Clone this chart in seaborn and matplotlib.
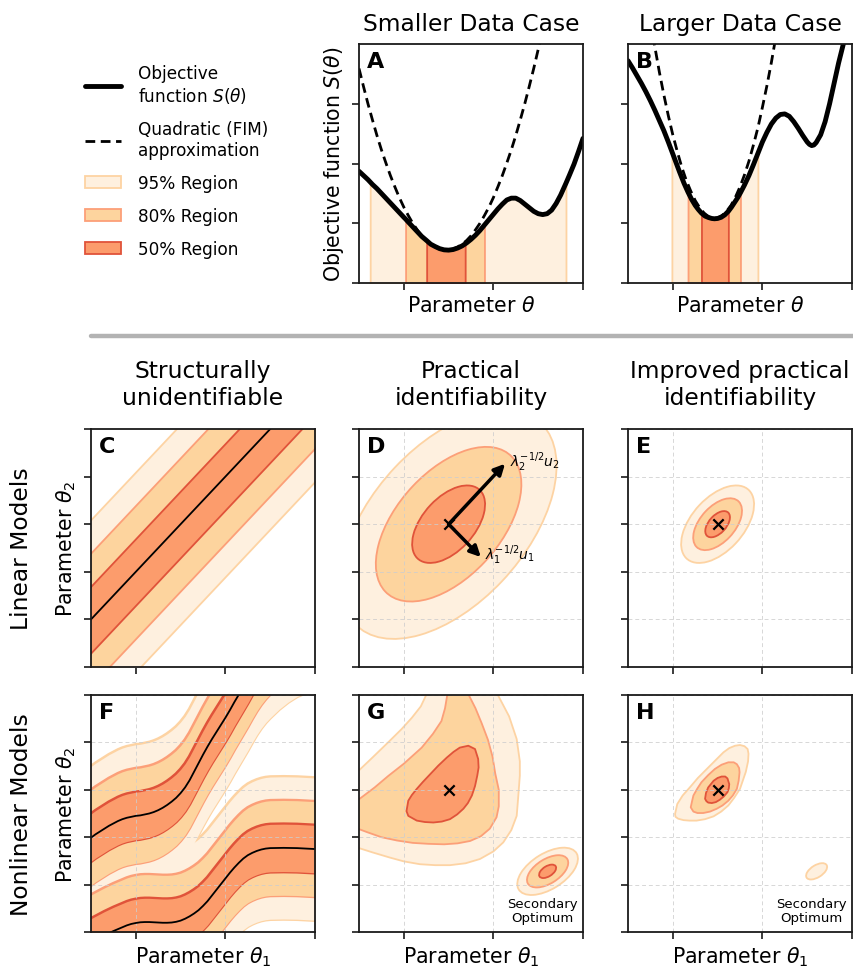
"""
Identifiability sketch: objective function slices (top row) and
confidence regions for linear / nonlinear models (bottom grid).
"""
import matplotlib
matplotlib.use("Agg")  # headless
import matplotlib.pyplot as plt
from matplotlib.lines import Line2D
from matplotlib.patches import Ellipse, Patch
import numpy as np
import seaborn as sns

sns.set_style("ticks", {"axes.edgecolor": ".1"})
plt.rcParams.update({
    "font.family": ["DejaVu Sans"],
    "text.color": "black",
    "axes.labelcolor": "black",
    "xtick.color": ".1",
    "ytick.color": ".1",
    "xtick.major.size": 5,
    "ytick.major.size": 5,
    "xtick.major.width": 1.2,
    "ytick.major.width": 1.2,
    "axes.linewidth": 1.3,
    "lines.solid_joinstyle": "round",
    "lines.solid_capstyle": "round",
})

FIG_W, FIG_H = 854, 970
TITLE_FS = 16.8
LABEL_FS = 14.8
LETTER_FS = 16

LEVELS = ["95", "80", "50"]
REGION_FILL = {"95": "#fef0df", "80": "#fdd49e", "50": "#fc9c6c"}
REGION_EDGE = {"95": "#fdd3a3", "80": "#fc9f78", "50": "#e0533a"}

# ---- A: smaller data case ----
small_theta = [0.0, 0.1, 0.2, 0.25, 0.3, 0.4, 0.5, 0.6, 0.7, 0.8, 0.9, 1.0, 1.04, 1.1,
               1.2, 1.3, 1.4, 1.51, 1.6, 1.7, 1.8, 1.9, 2.0, 2.1, 2.2, 2.3, 2.37, 2.4,
               2.5, 2.6, 2.7, 2.8, 2.9, 3.0, 3.1, 3.2, 3.3, 3.4, 3.5, 3.6, 3.7, 3.8,
               3.9, 4.0, 4.1, 4.2, 4.3, 4.4, 4.5, 4.62, 4.7, 4.8, 4.9, 5.0]
small_obj = [1.87, 1.80, 1.73, 1.69, 1.65, 1.58, 1.50, 1.42, 1.34, 1.26, 1.18, 1.10, 1.07,
             1.02, 0.94, 0.86, 0.78, 0.71, 0.65, 0.61, 0.575, 0.555, 0.55, 0.56, 0.585,
             0.62, 0.655, 0.67, 0.73, 0.80, 0.88, 0.97, 1.06, 1.15, 1.24, 1.32, 1.39,
             1.42, 1.42, 1.38, 1.32, 1.26, 1.20, 1.16, 1.145, 1.16, 1.22, 1.33, 1.47,
             1.67, 1.81, 1.99, 2.20, 2.42]
small_quad_theta = [0.0, 0.1, 0.2, 0.3, 0.4, 0.5, 0.6, 0.7, 0.8, 0.9, 1.0, 1.1, 1.2, 1.3,
                    1.4, 1.5, 1.6, 1.7, 1.8, 1.9, 2.0, 2.1, 2.2, 2.3, 2.4, 2.5, 2.6, 2.7,
                    2.8, 2.9, 3.0, 3.1, 3.2, 3.3, 3.4, 3.5, 3.6, 3.7, 3.8, 3.9, 4.0, 4.1]
small_quad = [3.59, 3.29, 3.00, 2.73, 2.47, 2.23, 2.01, 1.80, 1.61, 1.43, 1.27, 1.13, 1.00,
              0.89, 0.79, 0.71, 0.65, 0.60, 0.57, 0.55, 0.55, 0.57, 0.60, 0.65, 0.71,
              0.79, 0.89, 1.00, 1.13, 1.27, 1.43, 1.61, 1.80, 2.01, 2.23, 2.47, 2.73,
              3.00, 3.29, 3.59, 3.91, 4.25]
small_bounds = [(0.25, 4.62), (1.04, 2.80), (1.51, 2.37)]

# ---- B: larger data case ----
large_theta = [0.0, 0.1, 0.2, 0.3, 0.4, 0.5, 0.6, 0.7, 0.8, 0.9, 0.98, 1.05, 1.15, 1.25,
               1.34, 1.42, 1.5, 1.57, 1.64, 1.72, 1.8, 1.87, 1.93, 2.0, 2.08, 2.16, 2.24,
               2.31, 2.38, 2.45, 2.51, 2.6, 2.7, 2.8, 2.9, 3.0, 3.1, 3.2, 3.3, 3.4, 3.5,
               3.6, 3.7, 3.8, 3.9, 4.0, 4.05, 4.1, 4.15, 4.2, 4.3, 4.4, 4.5, 4.6, 4.7,
               4.8, 4.9]
large_obj = [3.72, 3.60, 3.47, 3.34, 3.20, 3.05, 2.89, 2.72, 2.55, 2.36, 2.20, 2.06, 1.86,
             1.67, 1.52, 1.40, 1.30, 1.23, 1.17, 1.12, 1.095, 1.08, 1.075, 1.08, 1.10,
             1.14, 1.20, 1.27, 1.35, 1.43, 1.51, 1.64, 1.80, 1.98, 2.17, 2.36, 2.52,
             2.66, 2.76, 2.82, 2.83, 2.79, 2.70, 2.59, 2.47, 2.36, 2.32, 2.30, 2.31,
             2.35, 2.48, 2.70, 3.00, 3.34, 3.68, 3.98, 4.30]
large_quad_theta = [0.5, 0.6, 0.7, 0.8, 0.9, 1.0, 1.1, 1.2, 1.3, 1.4, 1.5, 1.6, 1.7, 1.8,
                    1.9, 2.0, 2.1, 2.2, 2.3, 2.4, 2.5, 2.6, 2.7, 2.8, 2.9, 3.0, 3.1, 3.2,
                    3.3, 3.4]
large_quad = [4.39, 3.95, 3.53, 3.15, 2.80, 2.48, 2.20, 1.94, 1.72, 1.54, 1.38, 1.26, 1.17,
              1.11, 1.08, 1.09, 1.13, 1.20, 1.30, 1.44, 1.61, 1.81, 2.04, 2.31, 2.60,
              2.94, 3.30, 3.69, 4.12, 4.58]
large_bounds = [(0.98, 2.90), (1.34, 2.51), (1.64, 2.24)]

# ---- C: structurally unidentifiable ridge ----
ridge_x = [-1.0, 6.0]
ridge_y = [0.0, 7.0]
ridge_halfwidth = [2.1, 1.4, 0.7]

# ---- D / E: linear model ellipses ----
optimum = (2.0, 3.0)
d_axes = [(2.96, 1.69), (2.0, 1.13), (1.0, 0.57)]
e_axes = [(1.0, 0.57), (0.67, 0.38), (0.34, 0.19)]
ellipse_angle = 45
eig_tip_x = [2.72, 3.26]
eig_tip_y = [2.31, 4.27]
eig_labels = [r"$\lambda_1^{-1/2}u_1$", r"$\lambda_2^{-1/2}u_2$"]

# ---- F: nonlinear ridges ----
f_upper_x = [-0.3, -0.2, -0.1, 0.0, 0.1, 0.2, 0.3, 0.4, 0.5, 0.6, 0.7, 0.8, 0.9, 1.0,
             1.1, 1.2, 1.3, 1.4, 1.5, 1.6, 1.7, 1.8, 1.9, 2.0, 2.1, 2.2, 2.3, 2.4, 2.5,
             2.6, 2.7, 2.8, 2.9, 3.0, 3.1, 3.2, 3.3, 3.4, 3.5, 3.6, 3.7, 3.8, 3.9, 4.0,
             4.2, 4.4, 4.6, 4.8, 5.0, 5.3]
f_upper_y = [1.83, 1.88, 1.94, 1.99, 2.06, 2.12, 2.18, 2.24, 2.29, 2.34, 2.38, 2.41, 2.43,
             2.45, 2.46, 2.48, 2.50, 2.53, 2.57, 2.62, 2.68, 2.75, 2.83, 2.93, 3.05, 3.20,
             3.38, 3.56, 3.74, 3.91, 4.07, 4.22, 4.37, 4.52, 4.68, 4.85, 5.01, 5.17, 5.33,
             5.50, 5.66, 5.80, 5.92, 6.02, 6.20, 6.35, 6.47, 6.55, 6.60, 6.65]
f_lower_x = [-0.3, -0.2, -0.1, 0.0, 0.1, 0.2, 0.3, 0.4, 0.5, 0.6, 0.7, 0.8, 0.9, 1.0,
             1.1, 1.2, 1.3, 1.4, 1.5, 1.6, 1.7, 1.8, 1.9, 2.0, 2.1, 2.2, 2.3, 2.4, 2.5,
             2.6, 2.7, 2.8, 2.9, 3.0, 3.1, 3.2, 3.3, 3.4, 3.5, 3.6, 3.7, 3.8, 3.9, 4.0,
             4.3, 4.6, 5.0, 5.3]
f_lower_y = [-0.40, -0.34, -0.28, -0.22, -0.17, -0.12, -0.07, -0.025, 0.02, 0.06, 0.10,
             0.14, 0.17, 0.19, 0.205, 0.21, 0.21, 0.205, 0.20, 0.195, 0.195, 0.20, 0.215,
             0.24, 0.28, 0.33, 0.39, 0.46, 0.55, 0.65, 0.77, 0.89, 1.01, 1.13, 1.25,
             1.36, 1.46, 1.55, 1.62, 1.67, 1.71, 1.74, 1.76, 1.77, 1.775, 1.77, 1.75,
             1.74]
f_halfwidth = [1.5, 1.0, 0.5]

# ---- G: banana-shaped regions ----
g95_x = [-0.4, 0.0, 0.3, 0.65, 0.95, 1.18, 1.38, 1.5, 1.6, 2.3, 2.95, 3.1, 3.35, 3.52,
         3.59, 3.59, 3.55, 3.52, 3.4, 3.22, 3.0, 2.7, 2.38, 2.03, 1.7, 1.36, 1.0, 0.69,
         0.3, 0.0, -0.4]
g95_y = [3.05, 3.41, 3.68, 4.0, 4.28, 4.52, 4.76, 5.0, 5.25, 5.5, 5.25, 5.0, 4.55, 4.07,
         3.6, 3.3, 2.8, 2.45, 2.15, 1.89, 1.7, 1.54, 1.45, 1.41, 1.41, 1.43, 1.49, 1.57,
         1.68, 1.77, 1.9]
g80_x = [-0.4, 0.0, 0.35, 0.65, 1.0, 1.4, 1.65, 1.84, 1.92, 1.97, 2.02, 2.35, 2.45, 2.6,
         2.74, 2.88, 2.98, 3.04, 3.12, 3.12, 3.07, 2.92, 2.72, 2.48, 2.2, 1.9, 1.55, 1.2,
         0.85, 0.5, 0.2, 0.0, -0.4]
g80_y = [2.5, 2.8, 3.05, 3.29, 3.55, 3.89, 4.18, 4.45, 4.72, 5.0, 5.3, 5.3, 5.0, 4.72,
         4.4, 4.05, 3.7, 3.35, 3.0, 2.65, 2.42, 2.18, 2.02, 1.92, 1.87, 1.85, 1.86, 1.88,
         1.93, 2.0, 2.1, 2.17, 2.3]
g50_x = [1.06, 1.10, 1.18, 1.29, 1.43, 1.59, 1.77, 1.96, 2.11, 2.25, 2.44, 2.59, 2.66,
         2.67, 2.64, 2.59, 2.52, 2.43, 2.33, 2.19, 2.03, 1.85, 1.66, 1.47, 1.29, 1.10]
g50_y = [2.55, 2.77, 2.89, 3.02, 3.17, 3.33, 3.51, 3.68, 3.80, 3.89, 3.93, 3.86, 3.65,
         3.47, 3.30, 3.08, 2.88, 2.72, 2.60, 2.48, 2.38, 2.33, 2.31, 2.32, 2.35, 2.45]

# ---- H: tighter nonlinear regions ----
h95_x = [1.05, 1.10, 1.22, 1.38, 1.56, 1.76, 1.95, 2.13, 2.26, 2.39, 2.50, 2.60, 2.67,
         2.69, 2.68, 2.63, 2.50, 2.37, 2.24, 2.08, 1.91, 1.72, 1.53, 1.37, 1.24, 1.12,
         1.06]
h95_y = [2.49, 2.70, 2.88, 3.05, 3.25, 3.44, 3.62, 3.79, 3.88, 3.93, 3.945, 3.92, 3.86,
         3.76, 3.60, 3.38, 3.02, 2.83, 2.67, 2.54, 2.44, 2.38, 2.35, 2.35, 2.36, 2.39,
         2.43]
h80_x = [1.40, 1.43, 1.46, 1.55, 1.64, 1.79, 1.94, 2.09, 2.24, 2.36, 2.43, 2.48, 2.49,
         2.47, 2.43, 2.34, 2.24, 2.11, 1.98, 1.83, 1.68, 1.55, 1.46]
h80_y = [2.63, 2.76, 2.88, 3.03, 3.16, 3.31, 3.44, 3.53, 3.58, 3.58, 3.54, 3.46, 3.37,
         3.19, 3.02, 2.88, 2.77, 2.67, 2.60, 2.54, 2.51, 2.51, 2.54]
h50_x = [1.72, 1.74, 1.79, 1.91, 2.00, 2.09, 2.17, 2.22, 2.26, 2.25, 2.22, 2.14, 2.05,
         1.96, 1.87, 1.79, 1.75]
h50_y = [2.81, 2.93, 3.05, 3.19, 3.25, 3.28, 3.28, 3.24, 3.12, 3.03, 2.95, 2.86, 2.79,
         2.74, 2.72, 2.73, 2.76]

# ---- secondary optimum (G, H) ----
second_center = (4.21, 1.28)
second_angle = 30
g_second_axes = [(0.75, 0.38), (0.51, 0.26), (0.21, 0.11)]
h_second_axes = [(0.26, 0.13)]
second_label_xy = (4.1, 0.45)

COLS = [(91, 315), (359, 583), (628, 852)]
ROWS = [(45, 284), (430, 668), (696, 933)]


def add_panel(fig, col, row):
    left, right = COLS[col]
    top, bottom = ROWS[row]
    return fig.add_axes([left / FIG_W, 1 - bottom / FIG_H,
                         (right - left) / FIG_W, (bottom - top) / FIG_H])


def finish_axes(ax, letter, ymax, grid):
    ax.set_xlim(0, 5)
    ax.set_ylim(0, ymax)
    ax.set_xticks([1, 3, 5])
    ax.set_yticks(range(0, ymax + 1) if ymax == 5 else range(0, ymax))
    ax.tick_params(labelbottom=False, labelleft=False, direction="out")
    if grid:
        ax.grid(True, color="#cdcdcd", ls=(0, (4, 3)), lw=0.7, alpha=0.8)
        ax.set_axisbelow(False)
    for spine in ax.spines.values():
        spine.set_zorder(8)
    ax.text(0.035, 0.97, letter, transform=ax.transAxes, fontsize=LETTER_FS,
            fontweight="bold", ha="left", va="top", zorder=10)


def draw_objective(ax, theta, obj, quad_theta, quad, bounds):
    theta = np.asarray(theta)
    obj = np.asarray(obj)
    for lvl, (lo, hi) in zip(LEVELS, bounds):
        m = (theta >= lo - 1e-9) & (theta <= hi + 1e-9)
        ax.fill_between(theta[m], 0, obj[m], facecolor=REGION_FILL[lvl],
                        edgecolor=REGION_EDGE[lvl], lw=1.3, zorder=1)
    sns.lineplot(x=quad_theta, y=quad, ax=ax, color="k", lw=2,
                 linestyle=(0, (3.5, 2)), zorder=2)
    sns.lineplot(x=theta, y=obj, ax=ax, color="k", lw=3.5, zorder=3)


def draw_ellipses(ax, center, semi_axes, angle, levels=LEVELS):
    for lvl, (a, b) in zip(levels, semi_axes):
        ax.add_patch(Ellipse(center, 2 * a, 2 * b, angle=angle,
                             facecolor=REGION_FILL[lvl], edgecolor=REGION_EDGE[lvl],
                             lw=1.3, zorder=1))


def draw_polygons(ax, shapes):
    for lvl, (xs, ys) in zip(LEVELS, shapes):
        ax.fill(xs, ys, facecolor=REGION_FILL[lvl], edgecolor=REGION_EDGE[lvl],
                lw=1.3, zorder=1, joinstyle="round")


def draw_bands(ax, curves, halfwidths):
    """Vertical-offset bands; thick edges then fills so overlaps merge."""
    for lvl, d in zip(LEVELS, halfwidths):
        for xs, ys in curves:
            ys = np.asarray(ys)
            ax.fill_between(xs, ys - d, ys + d, facecolor="none",
                            edgecolor=REGION_EDGE[lvl], lw=2.6, zorder=1)
        for xs, ys in curves:
            ys = np.asarray(ys)
            ax.fill_between(xs, ys - d, ys + d, facecolor=REGION_FILL[lvl],
                            lw=0, zorder=1)
    for xs, ys in curves:
        sns.lineplot(x=xs, y=ys, ax=ax, color="k", lw=1.3, zorder=3)


def mark_optimum(ax):
    sns.scatterplot(x=[optimum[0]], y=[optimum[1]], ax=ax, marker="x", color="k",
                    s=55, linewidth=1.6, zorder=5)


def secondary_label(ax):
    ax.text(*second_label_xy, "Secondary\nOptimum", fontsize=9.5, ha="center",
            va="center", linespacing=1.1, zorder=6)


fig = plt.figure(figsize=(FIG_W / 100, FIG_H / 100), dpi=100)

# top row
ax_a = add_panel(fig, 1, 0)
draw_objective(ax_a, small_theta, small_obj, small_quad_theta, small_quad, small_bounds)
finish_axes(ax_a, "A", 4, grid=False)
ax_a.set_title("Smaller Data Case", fontsize=TITLE_FS, pad=10)
ax_a.set_xlabel(r"Parameter $\theta$", fontsize=LABEL_FS)
ax_a.set_ylabel(r"Objective function $S(\theta)$", fontsize=LABEL_FS)

ax_b = add_panel(fig, 2, 0)
draw_objective(ax_b, large_theta, large_obj, large_quad_theta, large_quad, large_bounds)
finish_axes(ax_b, "B", 4, grid=False)
ax_b.set_title("Larger Data Case", fontsize=TITLE_FS, pad=10)
ax_b.set_xlabel(r"Parameter $\theta$", fontsize=LABEL_FS)

# middle row
ax_c = add_panel(fig, 0, 1)
ridge_y_arr = np.asarray(ridge_y)
for lvl, d in zip(LEVELS, ridge_halfwidth):
    ax_c.fill_between(ridge_x, ridge_y_arr - d, ridge_y_arr + d, facecolor=REGION_FILL[lvl],
                      edgecolor=REGION_EDGE[lvl], lw=1.3, zorder=1)
sns.lineplot(x=ridge_x, y=ridge_y, ax=ax_c, color="k", lw=1.3, zorder=3)
finish_axes(ax_c, "C", 5, grid=False)
ax_c.set_title("Structurally\nunidentifiable", fontsize=TITLE_FS, pad=18)
ax_c.set_ylabel(r"Parameter $\theta_2$", fontsize=LABEL_FS)

ax_d = add_panel(fig, 1, 1)
draw_ellipses(ax_d, optimum, d_axes, ellipse_angle)
mark_optimum(ax_d)
for tx, ty, lab in zip(eig_tip_x, eig_tip_y, eig_labels):
    ax_d.annotate("", xy=(tx, ty), xytext=optimum,
                  arrowprops=dict(arrowstyle="-|>", color="k", lw=2.5,
                                  mutation_scale=16, shrinkA=0, shrinkB=0), zorder=6)
    ax_d.text(tx + 0.1, ty + 0.05, lab, fontsize=10, ha="left", va="center", zorder=6)
finish_axes(ax_d, "D", 5, grid=True)
ax_d.set_title("Practical\nidentifiability", fontsize=TITLE_FS, pad=18)

ax_e = add_panel(fig, 2, 1)
draw_ellipses(ax_e, optimum, e_axes, ellipse_angle)
mark_optimum(ax_e)
finish_axes(ax_e, "E", 5, grid=True)
ax_e.set_title("Improved practical\nidentifiability", fontsize=TITLE_FS, pad=18)

# bottom row
ax_f = add_panel(fig, 0, 2)
draw_bands(ax_f, [(f_upper_x, f_upper_y), (f_lower_x, f_lower_y)], f_halfwidth)
finish_axes(ax_f, "F", 5, grid=True)
ax_f.set_ylabel(r"Parameter $\theta_2$", fontsize=LABEL_FS)
ax_f.set_xlabel(r"Parameter $\theta_1$", fontsize=LABEL_FS)

ax_g = add_panel(fig, 1, 2)
draw_polygons(ax_g, [(g95_x, g95_y), (g80_x, g80_y), (g50_x, g50_y)])
draw_ellipses(ax_g, second_center, g_second_axes, second_angle)
mark_optimum(ax_g)
secondary_label(ax_g)
finish_axes(ax_g, "G", 5, grid=True)
ax_g.set_xlabel(r"Parameter $\theta_1$", fontsize=LABEL_FS)

ax_h = add_panel(fig, 2, 2)
draw_polygons(ax_h, [(h95_x, h95_y), (h80_x, h80_y), (h50_x, h50_y)])
draw_ellipses(ax_h, second_center, h_second_axes, second_angle)
mark_optimum(ax_h)
secondary_label(ax_h)
finish_axes(ax_h, "H", 5, grid=True)
ax_h.set_xlabel(r"Parameter $\theta_1$", fontsize=LABEL_FS)

# row labels
for row, label in [(1, "Linear Models"), (2, "Nonlinear Models")]:
    top, bottom = ROWS[row]
    fig.text(22 / FIG_W, 1 - (top + bottom) / 2 / FIG_H, label, rotation=90,
             ha="center", va="center", fontsize=TITLE_FS)

# separator between the two parts
fig.add_artist(Line2D([COLS[0][0] / FIG_W, 1.0], [1 - 337 / FIG_H] * 2,
                      transform=fig.transFigure, color="#b3b3b3", lw=3.2))

# legend in the empty top-left slot
handles = [
    Line2D([], [], color="k", lw=3.5),
    Line2D([], [], color="k", lw=2, linestyle=(0, (3.5, 2))),
    Patch(facecolor=REGION_FILL["95"], edgecolor=REGION_EDGE["95"], lw=1.3),
    Patch(facecolor=REGION_FILL["80"], edgecolor=REGION_EDGE["80"], lw=1.3),
    Patch(facecolor=REGION_FILL["50"], edgecolor=REGION_EDGE["50"], lw=1.3),
]
labels = ["Objective\nfunction $S(\\theta)$", "Quadratic (FIM)\napproximation",
          "95% Region", "80% Region", "50% Region"]
fig.legend(handles, labels, loc="upper left", bbox_to_anchor=(85 / FIG_W, 1 - 65 / FIG_H),
           frameon=False, fontsize=12.2, labelspacing=0.88, handlelength=2.1,
           handleheight=0.72, handletextpad=1.0, borderpad=0, borderaxespad=0)

fig.savefig("out.png", dpi=100)
plt.close(fig)
